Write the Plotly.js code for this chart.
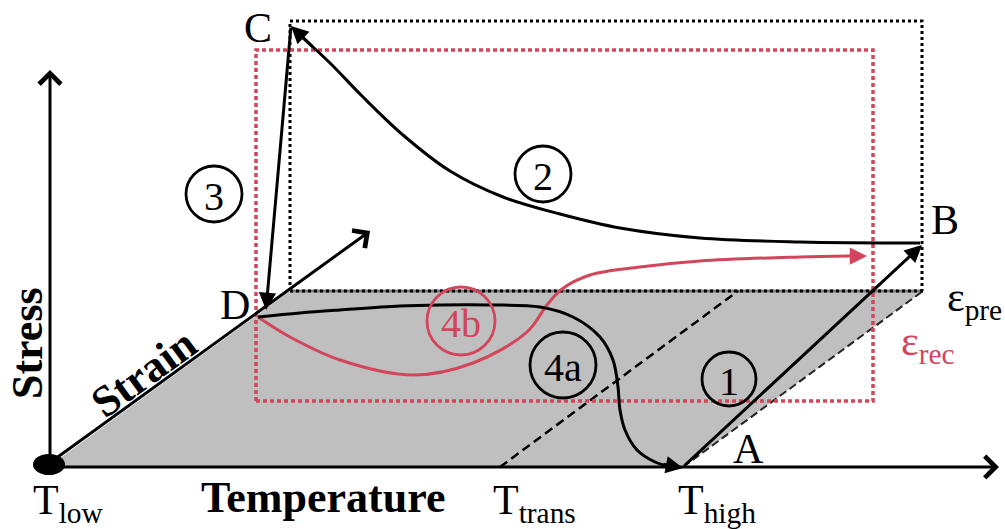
<!DOCTYPE html>
<html><head><meta charset="utf-8">
<script src="https://cdn.plot.ly/plotly-3.0.1.min.js"></script>
<style>html,body{margin:0;padding:0;background:#fff;}#chart{width:1005px;height:529px;}</style>
</head><body><div id="chart"></div>
<script>
const RED = '#d2455a';
const BLACK = '#000000';
const GRAY = '#bfbfbf';
const SERIF = 'Liberation Serif';

// Gray strain–temperature plane (parallelogram)
const planeX = [48, 683, 923, 290];
const planeY = [467, 467, 291, 291];
// Top edge of the plane (at epsilon_pre)
const planeTopX = [290, 923];
const planeTopY = [291, 291];
// Dashed lines on plane
const transLineX = [500, 738];
const transLineY = [467, 291];
const highLineX = [683, 923];
const highLineY = [467, 291];
// Black dotted box (epsilon_pre)
const preBoxX = [290, 290, 922, 922];
const preBoxY = [291, 21, 21, 291];
// Red dotted box (epsilon_rec)
const recBoxX = [256, 256, 873, 873, 256];
const recBoxY = [401, 50, 50, 401, 401];

// Path 2: B -> C (stress rise on cooling)
const path2X = [920, 800, 700, 620, 560, 503, 450, 403, 362, 330, 303];
const path2Y = [243, 242, 238, 228, 214, 197, 171, 135, 96, 63, 38];
// Path 4a: D -> T_high (black)
const path4aX = [258, 300, 340, 400, 440, 490, 540, 573, 600, 613, 618, 620, 625, 637, 655, 668];
const path4aY = [317, 313, 310, 306, 305, 305, 307, 317, 337, 360, 387, 410, 430, 450, 462, 466];
// Path 4b: D -> epsilon_rec (red)
const path4bX = [258, 290, 340, 413, 473, 527, 547, 562, 590, 640, 700, 800, 848];
const path4bY = [317, 337, 360, 375, 363, 332, 305, 289, 275, 267, 261, 257, 256];

// Arrows: [tipX, tipY, tailX, tailY]
const axisArrows = [
  [50, 70, 50, 465],     // Stress
  [999, 467, 48, 467],   // Temperature
  [370, 231, 48, 464]    // Strain
];
const pathArrows = [
  [922, 245, 683, 467, BLACK],  // 1: A -> B
  [266, 310, 291, 26, BLACK],   // 3: C -> D
  [291, 26, 314, 48, BLACK],    // 2 head at C
  [683, 468, 662, 464, BLACK],  // 4a head
  [867, 256, 846, 256, RED]     // 4b head
];

// Circled step labels
const stepText = ['1', '2', '3', '4a', '4b'];
const stepX = [729, 543, 214, 563, 461];
const stepY = [379, 174, 194, 365, 321];
const stepR = [27, 28, 28, 33, 34];
const stepColor = [BLACK, BLACK, BLACK, BLACK, RED];

// Point labels
const pointText = ['C', 'B', 'D', 'A'];
const pointX = [258, 945, 235, 748];
const pointY = [28, 220, 305, 449];

const traces = [];
traces.push({x: planeX, y: planeY, mode: 'lines', fill: 'toself', fillcolor: GRAY,
  line: {width: 0, color: GRAY}, hoverinfo: 'skip'});
traces.push({x: planeTopX, y: planeTopY, mode: 'lines', line: {width: 3, color: '#7a7a7a'}, hoverinfo: 'skip'});
traces.push({x: planeTopX, y: planeTopY, mode: 'lines', line: {width: 3, color: BLACK, dash: '3px,3px'}, hoverinfo: 'skip'});
traces.push({x: transLineX, y: transLineY, mode: 'lines', line: {width: 2.5, color: BLACK, dash: '9px,5px'}, hoverinfo: 'skip'});
traces.push({x: highLineX, y: highLineY, mode: 'lines', line: {width: 2, color: '#222', dash: '8px,4px'}, hoverinfo: 'skip'});
traces.push({x: preBoxX, y: preBoxY, mode: 'lines', line: {width: 3, color: BLACK, dash: '3px,3px'}, hoverinfo: 'skip'});
traces.push({x: recBoxX, y: recBoxY, mode: 'lines', line: {width: 3.5, color: RED, dash: '4px,3px'}, hoverinfo: 'skip'});
traces.push({x: path2X, y: path2Y, mode: 'lines', line: {width: 3, color: BLACK, shape: 'spline', smoothing: 1}, hoverinfo: 'skip'});
traces.push({x: path4bX, y: path4bY, mode: 'lines', line: {width: 3, color: RED, shape: 'spline', smoothing: 1}, hoverinfo: 'skip'});
traces.push({x: path4aX, y: path4aY, mode: 'lines', line: {width: 3, color: BLACK, shape: 'spline', smoothing: 1}, hoverinfo: 'skip'});

const shapes = [];
// origin dot
shapes.push({type: 'circle', xref: 'x', yref: 'y', x0: 33, x1: 65, y0: 454, y1: 475,
  fillcolor: BLACK, line: {width: 0}});
stepText.forEach((t, i) => {
  shapes.push({type: 'circle', xref: 'x', yref: 'y',
    x0: stepX[i] - stepR[i], x1: stepX[i] + stepR[i],
    y0: stepY[i] - stepR[i], y1: stepY[i] + stepR[i],
    line: {width: 2.8, color: stepColor[i]}, fillcolor: 'rgba(0,0,0,0)'});
});

const annotations = [];
axisArrows.forEach(a => annotations.push({x: a[0], y: a[1], ax: a[2], ay: a[3], xref: 'x', yref: 'y',
  axref: 'x', ayref: 'y', text: '', showarrow: true, arrowhead: 4, arrowsize: 1.4, arrowwidth: 3,
  arrowcolor: BLACK, standoff: 0, startstandoff: 0}));
pathArrows.forEach(a => annotations.push({x: a[0], y: a[1], ax: a[2], ay: a[3], xref: 'x', yref: 'y',
  axref: 'x', ayref: 'y', text: '', showarrow: true, arrowhead: 2, arrowsize: 1.15, arrowwidth: 3,
  arrowcolor: a[4], standoff: 0, startstandoff: 0}));
stepText.forEach((t, i) => annotations.push({x: stepX[i], y: stepY[i] + 2, xref: 'x', yref: 'y',
  text: t, showarrow: false, font: {family: SERIF, size: 40, color: stepColor[i]},
  xanchor: 'center', yanchor: 'middle'}));
pointText.forEach((t, i) => annotations.push({x: pointX[i], y: pointY[i], xref: 'x', yref: 'y',
  text: t, showarrow: false, font: {family: SERIF, size: 42, color: BLACK},
  xanchor: 'center', yanchor: 'middle'}));

// Axis labels and temperature labels
const tempText = ['T<sub>low</sub>', 'T<sub>trans</sub>', 'T<sub>high</sub>'];
const tempX = [31, 491, 676];
const tempY = [503, 503, 503];
tempText.forEach((t, i) => annotations.push({x: tempX[i], y: tempY[i], xref: 'x', yref: 'y',
  text: t, showarrow: false, font: {family: SERIF, size: 42, color: BLACK},
  xanchor: 'left', yanchor: 'middle'}));
annotations.push({x: 323, y: 497, xref: 'x', yref: 'y', text: '<b>Temperature</b>', showarrow: false,
  font: {family: SERIF, size: 44, color: BLACK}, xanchor: 'center', yanchor: 'middle'});
annotations.push({x: 27, y: 343, xref: 'x', yref: 'y', text: '<b>Stress</b>', showarrow: false,
  textangle: -90, font: {family: SERIF, size: 44, color: BLACK}, xanchor: 'center', yanchor: 'middle'});
annotations.push({x: 143, y: 373, xref: 'x', yref: 'y', text: '<b>Strain</b>', showarrow: false,
  textangle: -36, font: {family: SERIF, size: 44, color: BLACK}, xanchor: 'center', yanchor: 'middle'});
annotations.push({x: 945, y: 300, xref: 'x', yref: 'y', text: 'ε<sub>pre</sub>', showarrow: false,
  font: {family: SERIF, size: 42, color: BLACK}, xanchor: 'left', yanchor: 'middle'});
annotations.push({x: 899, y: 344, xref: 'x', yref: 'y', text: 'ε<sub>rec</sub>', showarrow: false,
  font: {family: SERIF, size: 42, color: RED}, xanchor: 'left', yanchor: 'middle'});

const layout = {
  width: 1005, height: 529,
  margin: {l: 0, r: 0, t: 0, b: 0, pad: 0},
  paper_bgcolor: '#ffffff', plot_bgcolor: '#ffffff',
  showlegend: false,
  xaxis: {range: [0, 1005], visible: false, fixedrange: true},
  yaxis: {range: [529, 0], visible: false, fixedrange: true},
  shapes: shapes,
  annotations: annotations
};
Plotly.newPlot('chart', traces, layout, {displayModeBar: false, staticPlot: true});
</script>
</body></html>
